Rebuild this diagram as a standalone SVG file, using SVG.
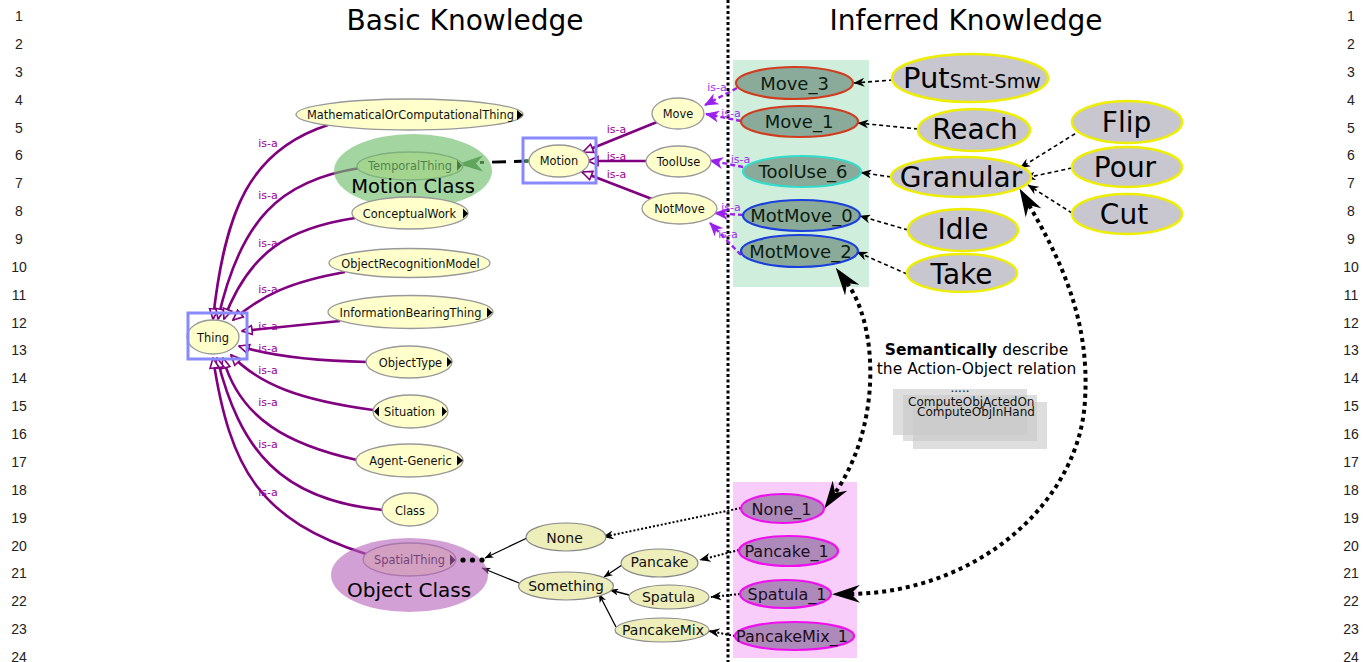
<svg xmlns="http://www.w3.org/2000/svg" width="1366" height="662" viewBox="0 0 1366 662">
  <style>
    .num { font-family: "Liberation Sans", Arial, sans-serif; font-size: 14px; fill: #222; text-anchor: middle; }
    .title { font-family: "DejaVu Sans", sans-serif; font-size: 28px; fill: #000; text-anchor: middle; }
    .cls { fill: #ffffcc; stroke: #999; stroke-width: 1.3; }
    .clt { font-family: "DejaVu Sans", sans-serif; font-size: 11.4px; fill: #111; text-anchor: middle; }
    .isa { fill: none; stroke: #800080; stroke-width: 2.6; marker-end: url(#hollow); }
    .isal { font-family: "DejaVu Sans", sans-serif; font-size: 11px; fill: #990099; text-anchor: middle; }
    .vis { fill: none; stroke: #9b22ee; stroke-width: 2.4; stroke-dasharray: 5 3; marker-end: url(#violet); }
    .visl { font-family: "DejaVu Sans", sans-serif; font-size: 11px; fill: #a030f0; text-anchor: middle; }
    .inst { fill: #8aaa9a; stroke-width: 2.2; }
    .instt { font-family: "DejaVu Sans", sans-serif; font-size: 18px; fill: #0c1c10; text-anchor: middle; }
    .act { fill: #c8c7cf; stroke: #eeee00; stroke-width: 2.5; }
    .actt { font-family: "DejaVu Sans", sans-serif; font-size: 28px; fill: #000; text-anchor: middle; }
    .dash { fill: none; stroke: #000; stroke-width: 1.6; stroke-dasharray: 4 3; marker-end: url(#vee); }
    .obj { fill: #eeeebb; stroke: #888; stroke-width: 1.2; }
    .objt { font-family: "DejaVu Sans", sans-serif; font-size: 14px; fill: #111; text-anchor: middle; }
    .pinst { fill: #ae8abb; stroke: #ee11ee; stroke-width: 2.2; }
    .pinstt { font-family: "DejaVu Sans", sans-serif; font-size: 16px; fill: #1e0e22; text-anchor: middle; }
    .dot { fill: none; stroke: #000; stroke-width: 2; stroke-dasharray: 2 2; marker-end: url(#vee); }
    .sol { fill: none; stroke: #000; stroke-width: 1.3; marker-end: url(#small); }
    .big { fill: none; stroke: #000; stroke-width: 4; stroke-dasharray: 4 4; marker-start: url(#big); marker-end: url(#big); }
    .tri { fill: #000; }
    .note { font-family: "DejaVu Sans", sans-serif; font-size: 15.5px; fill: #000; text-anchor: middle; }
    .card { fill: #c8c8c8; opacity: 0.6; }
    .cardt { font-family: "DejaVu Sans", sans-serif; font-size: 12px; fill: #111; }
  </style>
  <defs>
    <marker id="hollow" viewBox="0 0 12 12" refX="11" refY="6" markerWidth="12" markerHeight="12" markerUnits="userSpaceOnUse" orient="auto">
      <path d="M1,1.5 L11,6 L1,10.5 z" fill="#fff" stroke="#800080" stroke-width="1.6"/>
    </marker>
    <marker id="violet" viewBox="0 0 14 12" refX="13" refY="6" markerWidth="14" markerHeight="12" markerUnits="userSpaceOnUse" orient="auto">
      <path d="M0,0 L14,6 L0,12 L4,6 z" fill="#9b22ee"/>
    </marker>
    <marker id="vee" viewBox="0 0 11 9" refX="10.5" refY="4.5" markerWidth="11" markerHeight="9" markerUnits="userSpaceOnUse" orient="auto">
      <path d="M0,0 L11,4.5 L0,9 L3.5,4.5 z" fill="#000"/>
    </marker>
    <marker id="small" viewBox="0 0 9 7" refX="8.5" refY="3.5" markerWidth="9" markerHeight="7" markerUnits="userSpaceOnUse" orient="auto">
      <path d="M0,0 L9,3.5 L0,7 L2.5,3.5 z" fill="#000"/>
    </marker>
    <marker id="big" viewBox="0 0 28 18" refX="9" refY="9" markerWidth="28" markerHeight="18" markerUnits="userSpaceOnUse" orient="auto-start-reverse">
      <path d="M0,0 L28,9 L0,18 L9,9 z" fill="#000"/>
    </marker>
  </defs>

  <rect width="1366" height="662" fill="#fff"/>

  <!-- line numbers -->
  <g id="line-numbers">
    <text class="num" x="19" y="21">1</text><text class="num" x="1351" y="21">1</text>
    <text class="num" x="19" y="48.9">2</text><text class="num" x="1351" y="48.9">2</text>
    <text class="num" x="19" y="76.7">3</text><text class="num" x="1351" y="76.7">3</text>
    <text class="num" x="19" y="104.6">4</text><text class="num" x="1351" y="104.6">4</text>
    <text class="num" x="19" y="132.5">5</text><text class="num" x="1351" y="132.5">5</text>
    <text class="num" x="19" y="160.4">6</text><text class="num" x="1351" y="160.4">6</text>
    <text class="num" x="19" y="188.2">7</text><text class="num" x="1351" y="188.2">7</text>
    <text class="num" x="19" y="216.1">8</text><text class="num" x="1351" y="216.1">8</text>
    <text class="num" x="19" y="244">9</text><text class="num" x="1351" y="244">9</text>
    <text class="num" x="19" y="271.8">10</text><text class="num" x="1351" y="271.8">10</text>
    <text class="num" x="19" y="299.7">11</text><text class="num" x="1351" y="299.7">11</text>
    <text class="num" x="19" y="327.6">12</text><text class="num" x="1351" y="327.6">12</text>
    <text class="num" x="19" y="355.4">13</text><text class="num" x="1351" y="355.4">13</text>
    <text class="num" x="19" y="383.3">14</text><text class="num" x="1351" y="383.3">14</text>
    <text class="num" x="19" y="411.2">15</text><text class="num" x="1351" y="411.2">15</text>
    <text class="num" x="19" y="439.1">16</text><text class="num" x="1351" y="439.1">16</text>
    <text class="num" x="19" y="466.9">17</text><text class="num" x="1351" y="466.9">17</text>
    <text class="num" x="19" y="494.8">18</text><text class="num" x="1351" y="494.8">18</text>
    <text class="num" x="19" y="522.7">19</text><text class="num" x="1351" y="522.7">19</text>
    <text class="num" x="19" y="550.5">20</text><text class="num" x="1351" y="550.5">20</text>
    <text class="num" x="19" y="578.4">21</text><text class="num" x="1351" y="578.4">21</text>
    <text class="num" x="19" y="606.3">22</text><text class="num" x="1351" y="606.3">22</text>
    <text class="num" x="19" y="634.1">23</text><text class="num" x="1351" y="634.1">23</text>
    <text class="num" x="19" y="662">24</text><text class="num" x="1351" y="662">24</text>
  </g>

  <!-- headings and divider -->
  <text class="title" x="465" y="30">Basic Knowledge</text>
  <text class="title" x="966" y="30">Inferred Knowledge</text>
  <line x1="728" y1="0" x2="728" y2="662" stroke="#000" stroke-width="3" stroke-dasharray="3 2.5"/>

  <!-- background panels for instances -->
  <rect id="motion-panel" x="733" y="60" width="136" height="227" fill="#cfeedb"/>
  <rect id="object-panel" x="733" y="482" width="124" height="176" fill="#f9cdf9"/>

  <!-- connectors -->
  <g id="connectors">
    <!-- subclass edges into Thing -->
    <path class="isa" d="M328,125 C250,150 225,210 213,319"/>
    <path class="isa" d="M360,168 C280,180 240,220 218,319"/>
    <path class="isa" d="M355,218 C290,228 250,250 224,319"/>
    <path class="isa" d="M345,272 C290,282 262,295 233,320"/>
    <path class="isa" d="M340,321 C300,325 270,328 242,331"/>
    <path class="isa" d="M367,362 C320,361 270,356 239,346"/>
    <path class="isa" d="M373,410 C300,400 260,385 231,355"/>
    <path class="isa" d="M357,460 C290,445 240,420 223,358"/>
    <path class="isa" d="M383,510 C280,500 240,450 217,358"/>
    <path class="isa" d="M366,554 C260,520 230,470 213,358"/>
    <g class="isal-group">
      <text class="isal" x="268" y="147">is-a</text>
      <text class="isal" x="268" y="199">is-a</text>
      <text class="isal" x="268" y="247">is-a</text>
      <text class="isal" x="268" y="293">is-a</text>
      <text class="isal" x="268" y="330">is-a</text>
      <text class="isal" x="268" y="352">is-a</text>
      <text class="isal" x="268" y="374">is-a</text>
      <text class="isal" x="268" y="406">is-a</text>
      <text class="isal" x="268" y="448">is-a</text>
      <text class="isal" x="268" y="496">is-a</text>
    </g>

    <!-- subclass edges into Motion -->
    <path class="isa" d="M657,122 L583,152"/>
    <path class="isa" d="M646,161 L588,161"/>
    <path class="isa" d="M652,199 L582,172"/>
    <text class="isal" x="616.5" y="133">is-a</text>
    <text class="isal" x="616.5" y="160">is-a</text>
    <text class="isal" x="616.5" y="178">is-a</text>

    <!-- Motion to TemporalThing -->
    <line x1="528" y1="161" x2="480" y2="162.5" stroke="#000" stroke-width="3" stroke-dasharray="14 8"/>
    <line x1="525" y1="161" x2="529" y2="161" stroke="#2a8a2a" stroke-width="3"/>
    <polygon points="458,164 483,155.5 476,163.5 483,171.5" fill="#3d7a3d"/>

    <!-- instance is-a edges -->
    <path class="vis" d="M737,88 L705,105"/>
    <path class="vis" d="M741,121 L706,114"/>
    <path class="vis" d="M743,167 L710,160.5"/>
    <path class="vis" d="M743,215 L715,213"/>
    <path class="vis" d="M741,255 L710,223"/>
    <text class="visl" x="717" y="91">is-a</text>
    <text class="visl" x="731" y="117">is-a</text>
    <text class="visl" x="740.5" y="163">is-a</text>
    <text class="visl" x="731" y="211">is-a</text>
    <text class="visl" x="728" y="238">is-a</text>

    <!-- action labels to instances -->
    <path class="dash" d="M893,80 L854,83"/>
    <path class="dash" d="M918,129 L858,123"/>
    <path class="dash" d="M891,177 L861,172.5"/>
    <path class="dash" d="M908,230 L860,216"/>
    <path class="dash" d="M907,274 L857,252"/>
    <path class="dash" d="M1081,130 L1020,168"/>
    <path class="dash" d="M1072,168 L1025,178"/>
    <path class="dash" d="M1072,213 L1028,185"/>

    <!-- object instances to object classes -->
    <path class="dot" d="M741,508 L603,537"/>
    <path class="dot" d="M739,550 L700,560"/>
    <path class="dot" d="M740,594 L711,597"/>
    <path class="dot" d="M735,636 L709,631"/>

    <!-- object class hierarchy -->
    <path class="sol" d="M527,538 L485,558"/>
    <path class="sol" d="M519,583 L482,568"/>
    <path class="sol" d="M622,565 L604,577"/>
    <path class="sol" d="M629,595 L610,590"/>
    <path class="sol" d="M616,627 L599,594"/>

    <!-- action-object relation arcs -->
    <path class="big" d="M847,283 C878,325 882,425 835,493"/>
    <path class="big" d="M1029,205 C1062,262 1090,322 1085,400 C1080,500 980,592 851,594"/>
  </g>

  <!-- class nodes -->
  <g id="node-thing">
    <ellipse class="cls" cx="213" cy="337" rx="26" ry="17"/>
    <text class="clt" x="213" y="341.5">Thing</text>
    <rect x="188" y="313" width="59" height="46" fill="none" stroke="#8888ff" stroke-width="3"/>
  </g>
  <g id="node-math">
    <ellipse class="cls" cx="409.5" cy="114.5" rx="113.5" ry="15.5"/>
    <text class="clt" x="410.5" y="118.5">MathematicalOrComputationalThing</text>
    <polygon class="tri" points="517,110 523,115 517,120"/>
  </g>
  <g id="node-temporal">
    <ellipse class="cls" cx="410" cy="166" rx="53" ry="14"/>
    <text class="clt" x="410" y="170">TemporalThing</text>
    <polygon class="tri" points="457,160 462,165.5 457,171"/>
  </g>
  <g id="motion-class">
    <ellipse cx="413" cy="171" rx="79" ry="37" fill="#72be6d" opacity="0.65"/>
    <text x="413" y="193" font-family="DejaVu Sans, sans-serif" font-size="19.5" text-anchor="middle" fill="#000">Motion Class</text>
  </g>
  <g id="node-conceptual">
    <ellipse class="cls" cx="410" cy="213" rx="58" ry="16"/>
    <text class="clt" x="409.5" y="217.5">ConceptualWork</text>
    <polygon class="tri" points="463,208.5 468,213.5 463,218.5"/>
  </g>
  <g id="node-objrec">
    <ellipse class="cls" cx="409.5" cy="263" rx="80.5" ry="14.5"/>
    <text class="clt" x="410.5" y="267.5">ObjectRecognitionModel</text>
  </g>
  <g id="node-infobearing">
    <ellipse class="cls" cx="410.5" cy="312" rx="82.5" ry="16.5"/>
    <text class="clt" x="410.5" y="316.5">InformationBearingThing</text>
    <polygon class="tri" points="487,307.5 492.5,312.5 487,317.5"/>
  </g>
  <g id="node-objecttype">
    <ellipse class="cls" cx="409" cy="362" rx="43" ry="16"/>
    <text class="clt" x="410.5" y="366.5">ObjectType</text>
    <polygon class="tri" points="447,357 452,362 447,367"/>
  </g>
  <g id="node-situation">
    <ellipse class="cls" cx="410.5" cy="411.5" rx="37.5" ry="16.5"/>
    <text class="clt" x="409.5" y="416">Situation</text>
    <polygon class="tri" points="379,406.5 374,411.5 379,416.5"/>
    <polygon class="tri" points="442,406.5 447,411.5 442,416.5"/>
  </g>
  <g id="node-agent">
    <ellipse class="cls" cx="409.5" cy="460.5" rx="53.5" ry="16.5"/>
    <text class="clt" x="410.5" y="465">Agent-Generic</text>
    <polygon class="tri" points="457,455.5 463,460.5 457,465.5"/>
  </g>
  <g id="node-class">
    <ellipse class="cls" cx="410" cy="509.5" rx="28" ry="16.5"/>
    <text class="clt" x="410" y="514.5">Class</text>
  </g>
  <g id="node-spatial">
    <ellipse class="cls" cx="409.5" cy="559.5" rx="46.5" ry="16.5"/>
    <text class="clt" x="409.5" y="564">SpatialThing</text>
    <polygon class="tri" points="450,554.5 455.5,560 450,565.5"/>
  </g>
  <g id="object-class">
    <ellipse cx="409.5" cy="575" rx="78.5" ry="37" fill="#b661bb" opacity="0.6"/>
    <text x="409" y="597" font-family="DejaVu Sans, sans-serif" font-size="20" text-anchor="middle" fill="#000">Object Class</text>
    <circle cx="463" cy="560" r="2.6"/>
    <circle cx="472.5" cy="560" r="2.6"/>
    <circle cx="482" cy="560" r="2.6"/>
  </g>

  <g id="node-motion">
    <ellipse class="cls" cx="559" cy="161" rx="30" ry="16"/>
    <text class="clt" x="559" y="165">Motion</text>
    <rect x="523" y="138" width="73" height="45" fill="none" stroke="#8888ff" stroke-width="3"/>
  </g>
  <g id="node-move">
    <ellipse class="cls" cx="678" cy="113.5" rx="26" ry="15.5"/>
    <text class="clt" x="678" y="117.5">Move</text>
  </g>
  <g id="node-tooluse">
    <ellipse class="cls" cx="678.5" cy="161.5" rx="32.5" ry="15.5"/>
    <text class="clt" x="678.5" y="165.5">ToolUse</text>
  </g>
  <g id="node-notmove">
    <ellipse class="cls" cx="679.5" cy="208.5" rx="37.5" ry="15.5"/>
    <text class="clt" x="679.5" y="212.5">NotMove</text>
  </g>

  <!-- motion instances -->
  <g id="inst-move3">
    <ellipse class="inst" cx="794.5" cy="83" rx="58.5" ry="16" stroke="#d23c1e"/>
    <text class="instt" x="794.5" y="89.5">Move_3</text>
  </g>
  <g id="inst-move1">
    <ellipse class="inst" cx="799.5" cy="121.5" rx="58.5" ry="15.5" stroke="#d23c1e"/>
    <text class="instt" x="799" y="128">Move_1</text>
  </g>
  <g id="inst-tooluse6">
    <ellipse class="inst" cx="802" cy="171.5" rx="59" ry="15.5" stroke="#33ddcc"/>
    <text class="instt" x="803" y="178">ToolUse_6</text>
  </g>
  <g id="inst-motmove0">
    <ellipse class="inst" cx="801.5" cy="215.5" rx="58.5" ry="15.5" stroke="#1a3fdd"/>
    <text class="instt" x="801.5" y="222">MotMove_0</text>
  </g>
  <g id="inst-motmove2">
    <ellipse class="inst" cx="799.5" cy="251" rx="58.5" ry="16" stroke="#1a3fdd"/>
    <text class="instt" x="800.5" y="257.5">MotMove_2</text>
  </g>

  <!-- action labels -->
  <g id="act-put">
    <ellipse class="act" cx="970" cy="78" rx="78" ry="24"/>
    <text x="903" y="88" font-family="DejaVu Sans, sans-serif" fill="#000"><tspan font-size="29">Put</tspan><tspan font-size="19">Smt-Smw</tspan></text>
  </g>
  <g id="act-reach">
    <ellipse class="act" cx="974" cy="130" rx="56" ry="21"/>
    <text class="actt" x="975" y="139">Reach</text>
  </g>
  <g id="act-granular">
    <ellipse class="act" cx="961" cy="177" rx="70" ry="20"/>
    <text class="actt" x="961" y="187" font-size="29">Granular</text>
  </g>
  <g id="act-idle">
    <ellipse class="act" cx="963" cy="230" rx="55" ry="21"/>
    <text class="actt" x="963" y="239">Idle</text>
  </g>
  <g id="act-take">
    <ellipse class="act" cx="962" cy="273" rx="55" ry="19"/>
    <text class="actt" x="961.5" y="284">Take</text>
  </g>
  <g id="act-flip">
    <ellipse class="act" cx="1127" cy="122" rx="55" ry="21"/>
    <text class="actt" x="1126.5" y="132">Flip</text>
  </g>
  <g id="act-pour">
    <ellipse class="act" cx="1127" cy="167" rx="55" ry="20"/>
    <text class="actt" x="1125" y="177">Pour</text>
  </g>
  <g id="act-cut">
    <ellipse class="act" cx="1127" cy="214" rx="55" ry="20"/>
    <text class="actt" x="1124" y="224">Cut</text>
  </g>

  <!-- relation note -->
  <g id="relation-note">
    <text class="note" x="976.5" y="355"><tspan font-weight="bold">Semantically</tspan> describe</text>
    <text class="note" x="976.5" y="374">the Action-Object relation</text>
    <rect class="card" x="893" y="389" width="134" height="46"/>
    <rect class="card" x="903" y="395" width="134" height="46"/>
    <rect class="card" x="913" y="402" width="134" height="47"/>
    <text class="cardt" x="960" y="392" text-anchor="middle">.....</text>
    <text class="cardt" x="908" y="406">ComputeObjActedOn</text>
    <text class="cardt" x="917" y="416">ComputeObjInHand</text>
  </g>

  <!-- object classes -->
  <g id="obj-none">
    <ellipse class="obj" cx="566" cy="537" rx="40" ry="14"/>
    <text class="objt" x="564.5" y="543" font-size="16">None</text>
  </g>
  <g id="obj-something">
    <ellipse class="obj" cx="566" cy="586" rx="47.5" ry="14"/>
    <text class="objt" x="566" y="591">Something</text>
  </g>
  <g id="obj-pancake">
    <ellipse class="obj" cx="659.5" cy="563" rx="38.5" ry="14"/>
    <text class="objt" x="659.5" y="567">Pancake</text>
  </g>
  <g id="obj-spatula">
    <ellipse class="obj" cx="669" cy="597" rx="40" ry="12"/>
    <text class="objt" x="668.5" y="602">Spatula</text>
  </g>
  <g id="obj-pancakemix">
    <ellipse class="obj" cx="662" cy="630" rx="47" ry="12"/>
    <text class="objt" x="663" y="634.5">PancakeMix</text>
  </g>

  <!-- object instances -->
  <g id="inst-none1">
    <ellipse class="pinst" cx="782.5" cy="508.5" rx="41.5" ry="14.5"/>
    <text class="pinstt" x="781.5" y="514.5">None_1</text>
  </g>
  <g id="inst-pancake1">
    <ellipse class="pinst" cx="788.5" cy="551" rx="49.5" ry="15"/>
    <text class="pinstt" x="786.5" y="557">Pancake_1</text>
  </g>
  <g id="inst-spatula1">
    <ellipse class="pinst" cx="785.5" cy="594" rx="45.5" ry="14"/>
    <text class="pinstt" x="787" y="600">Spatula_1</text>
  </g>
  <g id="inst-pancakemix1">
    <ellipse class="pinst" cx="794.5" cy="636" rx="59.5" ry="14"/>
    <text class="pinstt" x="792" y="641.5">PancakeMix_1</text>
  </g>
</svg>
